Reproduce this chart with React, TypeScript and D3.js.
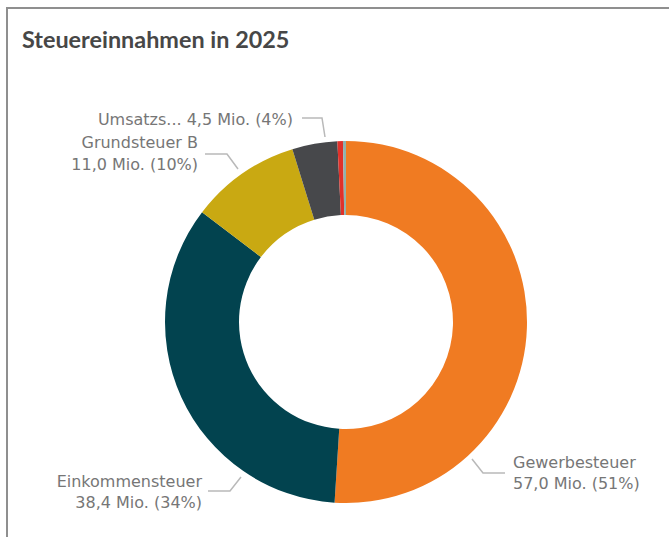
import React from "react";
import * as d3 from "d3";

const categories = ["Gewerbesteuer", "Einkommensteuer", "Grundsteuer B", "Umsatzsteuer", "Sonstige", "Weitere"];
const values = [57.0, 38.4, 11.0, 4.5, 0.55, 0.3];
const colors = ["#F07B22", "#02434F", "#C9A912", "#47484B", "#E0312A", "#8FB3AE"];
const labelLines = [
  ["Gewerbesteuer", "57,0 Mio. (51%)"],
  ["Einkommensteuer", "38,4 Mio. (34%)"],
  ["Grundsteuer B", "11,0 Mio. (10%)"],
  ["Umsatzs... 4,5 Mio. (4%)"],
];
const title = "Steuereinnahmen in 2025";

const W = 669, H = 537;
const cx = 346, cy = 322, R = 181, r = 107;

export default function App() {
  const pie = d3.pie<number>().value((d) => d).sort(null);
  const arcs = pie(values);
  const arc = d3.arc<d3.PieArcDatum<number>>().innerRadius(r).outerRadius(R);
  const lblFont = "DejaVu Sans, sans-serif";
  const txt = "#767676";
  const ln = "#b9b9b9";
  return (
    <svg width={W} height={H} style={{ position: "absolute", left: 0, top: 0, background: "#fff" }}>
      <rect x={0} y={0} width={W} height={H} fill="#fff" />
      <path d={`M7,${H} V8 H${W}`} fill="none" stroke="#8f8f8f" strokeWidth={2} />
      <text x={22} y={48} fontFamily="Lato, sans-serif" fontWeight={700} fontSize={23.4} fill="#474747">{title}</text>
      <g transform={`translate(${cx},${cy})`}>
        {arcs.map((a, i) => (
          <path key={categories[i]} d={arc(a) || ""} fill={colors[i]} />
        ))}
      </g>
      <polyline points="472,459 483,473 505,473" fill="none" stroke={ln} strokeWidth={1.5} />
      <polyline points="241,477 230,491 208,491" fill="none" stroke={ln} strokeWidth={1.5} />
      <polyline points="238,169 227,154 205,154" fill="none" stroke={ln} strokeWidth={1.5} />
      <polyline points="325,137 322,118 302,118" fill="none" stroke={ln} strokeWidth={1.5} />
      <g fontFamily={lblFont} fontSize={16} fill={txt}>
        <text x={513} y={468}>{labelLines[0][0]}</text>
        <text x={513} y={489}>{labelLines[0][1]}</text>
        <text x={202} y={487} textAnchor="end">{labelLines[1][0]}</text>
        <text x={202} y={508} textAnchor="end">{labelLines[1][1]}</text>
        <text x={198} y={148} textAnchor="end">{labelLines[2][0]}</text>
        <text x={198} y={170} textAnchor="end">{labelLines[2][1]}</text>
        <text x={293} y={125} textAnchor="end">{labelLines[3][0]}</text>
      </g>
    </svg>
  );
}
